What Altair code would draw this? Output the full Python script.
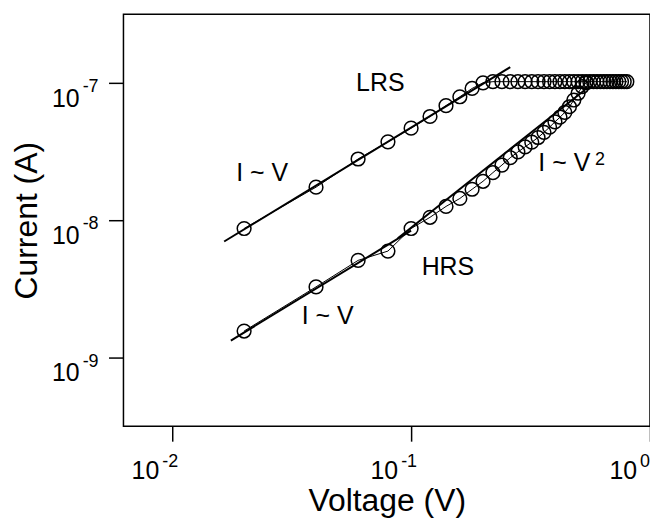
import altair as alt
import pandas as pd

# ---------------- data ----------------
lrs_v = [0.02, 0.04, 0.06, 0.08, 0.10, 0.12, 0.14, 0.16, 0.18, 0.20,
         0.22, 0.24, 0.26, 0.28, 0.30, 0.32, 0.34, 0.36, 0.38, 0.40,
         0.42, 0.44, 0.46, 0.48, 0.50, 0.52, 0.54, 0.56, 0.58, 0.60,
         0.62, 0.64, 0.66, 0.68, 0.70, 0.72, 0.74, 0.76, 0.78, 0.80]
lrs_i = [8.7e-9, 1.74e-8, 2.79e-8, 3.72e-8, 4.68e-8, 5.69e-8, 6.82e-8, 7.92e-8, 9.1e-8, 1.0e-7,
         1.02e-7, 1.02e-7, 1.02e-7, 1.02e-7, 1.02e-7, 1.02e-7, 1.02e-7, 1.02e-7, 1.02e-7, 1.02e-7,
         1.02e-7, 1.02e-7, 1.02e-7, 1.02e-7, 1.02e-7, 1.02e-7, 1.02e-7, 1.02e-7, 1.02e-7, 1.02e-7,
         1.02e-7, 1.02e-7, 1.02e-7, 1.02e-7, 1.02e-7, 1.02e-7, 1.02e-7, 1.02e-7, 1.02e-7, 1.02e-7]

hrs_v = [0.02, 0.04, 0.06, 0.08, 0.10, 0.12, 0.14, 0.16, 0.18, 0.20,
         0.22, 0.24, 0.26, 0.28, 0.30, 0.32, 0.34, 0.36, 0.38, 0.40,
         0.42, 0.44, 0.46, 0.48, 0.50, 0.52, 0.54]
hrs_i = [1.56e-9, 3.27e-9, 5.1e-9, 5.96e-9, 8.7e-9, 1.05e-8, 1.26e-8, 1.44e-8, 1.68e-8, 1.92e-8,
         2.22e-8, 2.52e-8, 2.85e-8, 3.14e-8, 3.42e-8, 3.7e-8, 4.0e-8, 4.36e-8, 4.76e-8, 5.2e-8,
         5.62e-8, 6.1e-8, 6.7e-8, 7.5e-8, 8.4e-8, 9.4e-8, 1.0e-7]

fit_lrs_v = [0.0165, 0.26]
fit_lrs_i = [7.0e-9, 1.3e-7]
fit_hrs1_v = [0.0176, 0.10]
fit_hrs1_i = [1.33e-9, 8.4e-9]
fit_hrs2_v = [0.088, 0.53]
fit_hrs2_i = [7.4e-9, 8.8e-8]

x_ticks = [0.01, 0.1, 1.0]
x_exps = ["-2", "-1", "0"]
y_ticks = [1e-9, 1e-8, 1e-7]
y_exps = ["-9", "-8", "-7"]

ann_center_text = ["LRS", "I ~ V", "HRS", "I ~ V"]
ann_center_v = [0.0743, 0.0238, 0.1426, 0.0447]
ann_center_i = [9.9e-8, 2.2e-8, 4.54e-9, 2.01e-9]
ann_left_text = ["I ~ V"]
ann_sup_text = ["2"]
ann_left_v = [0.341]
ann_left_i = [2.6e-8]

# ---------------- chart ----------------
W, H = 529, 414
FONT = "Liberation Sans"
xs = alt.Scale(type="log", domain=[10 ** -2.204, 1.0])
ys = alt.Scale(type="log", domain=[10 ** -9.5, 10 ** -6.5])

x_axis = alt.Axis(values=x_ticks, labels=False, tickSize=15, tickWidth=1.5,
                  tickColor="black", domain=False, grid=False,
                  title="Voltage (V)", titleFont=FONT, titleFontSize=32,
                  titleFontWeight="normal", titleColor="black",
                  titleBaseline="alphabetic", titleX=W / 2, titleY=85)
y_axis = alt.Axis(values=y_ticks, labels=False, tickSize=15, tickWidth=1.5,
                  tickColor="black", domain=False, grid=False,
                  title="Current (A)", titleFont=FONT, titleFontSize=32,
                  titleFontWeight="normal", titleColor="black",
                  titleBaseline="alphabetic", titleAngle=270,
                  titleX=-87, titleY=H / 2)


def X():
    return alt.X("v:Q", scale=xs, axis=x_axis)


def Y():
    return alt.Y("i:Q", scale=ys, axis=y_axis)


lrs = pd.DataFrame({"v": lrs_v, "i": lrs_i})
hrs = pd.DataFrame({"v": hrs_v, "i": hrs_i})

lrs_line = alt.Chart(lrs).mark_line(color="black", strokeWidth=1).encode(x=X(), y=Y())
hrs_line = alt.Chart(hrs).mark_line(color="black", strokeWidth=1).encode(x=X(), y=Y())

pt = dict(shape="circle", filled=False, size=190, strokeWidth=1.5, color="black", opacity=1)
lrs_pts = alt.Chart(lrs).mark_point(**pt).encode(x=X(), y=Y())
hrs_pts = alt.Chart(hrs).mark_point(**pt).encode(x=X(), y=Y())

fits = []
for fv, fi in [(fit_lrs_v, fit_lrs_i), (fit_hrs1_v, fit_hrs1_i), (fit_hrs2_v, fit_hrs2_i)]:
    fits.append(alt.Chart(pd.DataFrame({"v": fv, "i": fi})).mark_line(
        color="black", strokeWidth=2).encode(x=X(), y=Y()))

ann_c = alt.Chart(pd.DataFrame({"v": ann_center_v, "i": ann_center_i, "t": ann_center_text})).mark_text(
    font=FONT, fontSize=25, color="black", align="center", baseline="middle").encode(
    x=X(), y=Y(), text="t:N")
ann_df = pd.DataFrame({"v": ann_left_v, "i": ann_left_i, "t": ann_left_text, "s": ann_sup_text})
ann_l = alt.Chart(ann_df).mark_text(
    font=FONT, fontSize=25, color="black", align="left", baseline="middle").encode(
    x=X(), y=Y(), text="t:N")
ann_s = alt.Chart(ann_df).mark_text(
    font=FONT, fontSize=18, color="black", align="left", baseline="alphabetic",
    dx=57, dy=2).encode(x=X(), y=Y(), text="s:N")

xt = pd.DataFrame({"v": x_ticks, "e": x_exps})
yt = pd.DataFrame({"i": y_ticks, "e": y_exps})
x_ten = alt.Chart(xt).mark_text(text="10", font=FONT, fontSize=25, color="black",
                                align="right", baseline="alphabetic", dx=-13).encode(
    x=X(), y=alt.value(H + 53))
x_exp = alt.Chart(xt).mark_text(font=FONT, fontSize=18, color="black",
                                align="left", baseline="alphabetic", dx=-10).encode(
    x=X(), y=alt.value(H + 41), text="e:N")
y_ten = alt.Chart(yt).mark_text(text="10", font=FONT, fontSize=25, color="black",
                                align="right", baseline="alphabetic", dy=24).encode(
    x=alt.value(-44), y=Y())
y_exp = alt.Chart(yt).mark_text(font=FONT, fontSize=18, color="black",
                                align="left", baseline="alphabetic", dy=9).encode(
    x=alt.value(-41), y=Y(), text="e:N")

chart = alt.layer(lrs_line, hrs_line, *fits, lrs_pts, hrs_pts, ann_c, ann_l, ann_s,
                  x_ten, x_exp, y_ten, y_exp).properties(
    width=W, height=H,
    autosize=alt.AutoSizeParams(type="none"),
    padding={"left": 116, "top": 5, "right": 0, "bottom": 95},
    background="white",
).configure_view(stroke="black", strokeWidth=1.5)

chart.save("out.html", embed_options={"renderer": "svg", "actions": False})
